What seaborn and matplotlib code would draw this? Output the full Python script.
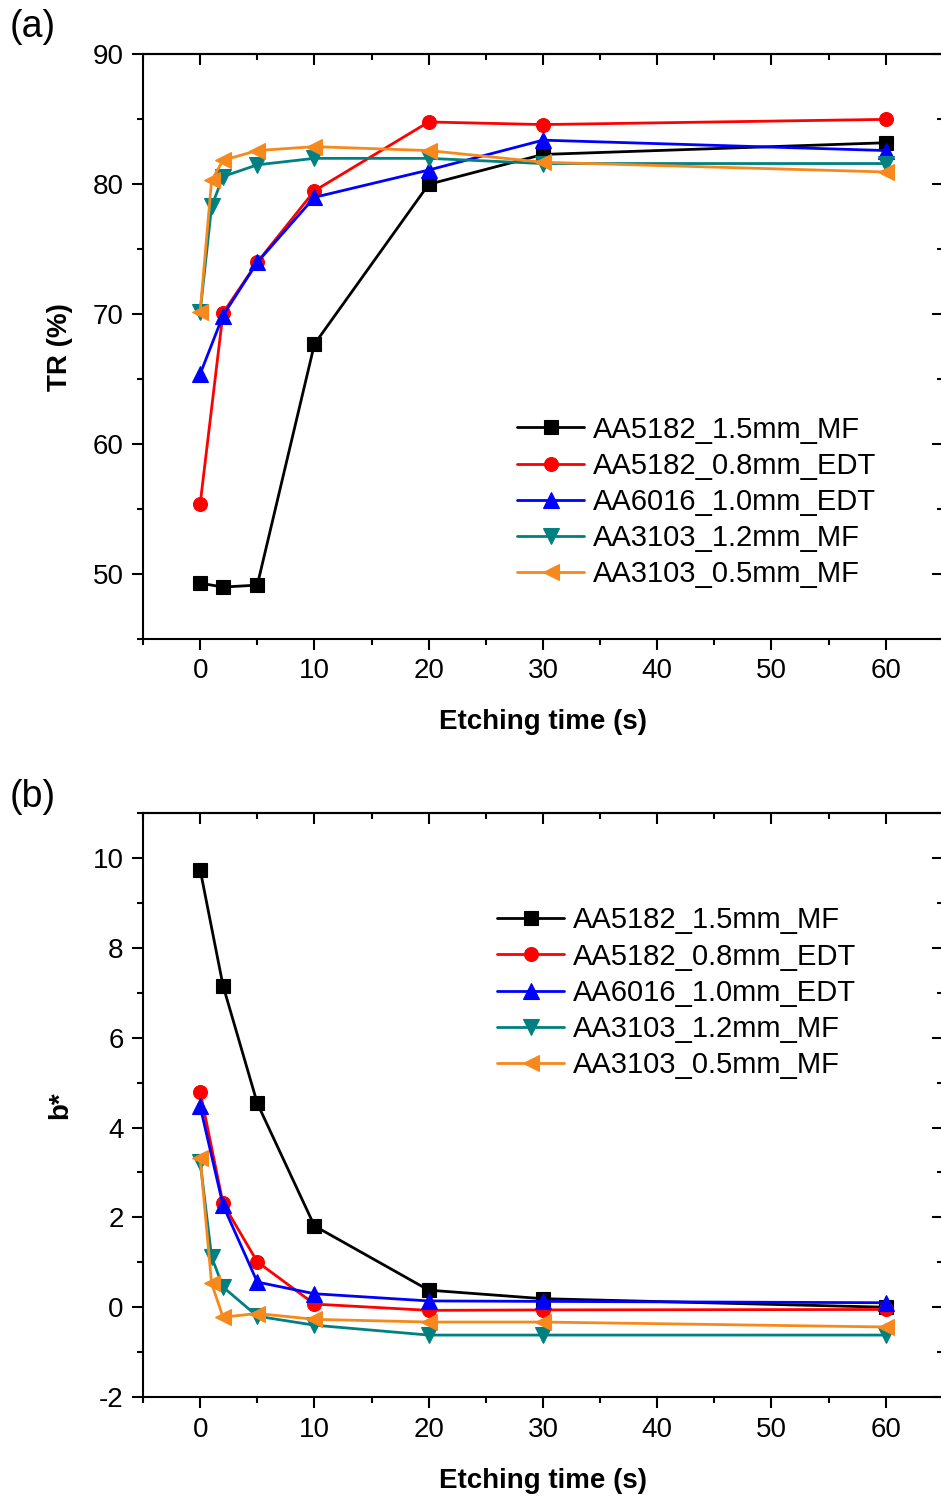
import numpy as np
import pandas as pd
import seaborn as sns
import matplotlib.pyplot as plt
from matplotlib.ticker import MultipleLocator

# Series names, colours and markers
samples = ['AA5182_1.5mm_MF', 'AA5182_0.8mm_EDT', 'AA6016_1.0mm_EDT',
           'AA3103_1.2mm_MF', 'AA3103_0.5mm_MF']
colors = ['#000000', '#FF0000', '#0000FF', '#008080', '#F7891C']
markers = ['s', 'o', '^', 'v', '<']

# Etching times (s)
t_a = [0, 2, 5, 10, 20, 30, 60]
t_b = [0, 1, 2, 5, 10, 20, 30, 60]
times = [t_a, t_a, t_a, t_b, t_b]

# (a) TR (%)
tr_5182_15 = [49.3, 49.0, 49.15, 67.7, 80.0, 82.3, 83.2]
tr_5182_08 = [55.4, 70.1, 74.0, 79.5, 84.8, 84.6, 85.0]
tr_6016_10 = [65.4, 69.9, 74.0, 79.0, 81.1, 83.4, 82.6]
tr_3103_12 = [70.2, 78.3, 80.6, 81.5, 82.0, 82.0, 81.6, 81.6]
tr_3103_05 = [70.2, 80.3, 81.85, 82.6, 82.9, 82.6, 81.7, 80.95]

# (b) b*
b_5182_15 = [9.74, 7.16, 4.54, 1.81, 0.38, 0.19, 0.0]
b_5182_08 = [4.80, 2.31, 1.01, 0.07, -0.07, -0.06, -0.05]
b_6016_10 = [4.47, 2.27, 0.56, 0.30, 0.14, 0.13, 0.10]
b_3103_12 = [3.24, 1.12, 0.45, -0.20, -0.40, -0.62, -0.62, -0.62]
b_3103_05 = [3.32, 0.53, -0.22, -0.14, -0.27, -0.33, -0.33, -0.44]

tr_data = [tr_5182_15, tr_5182_08, tr_6016_10, tr_3103_12, tr_3103_05]
b_data = [b_5182_15, b_5182_08, b_6016_10, b_3103_12, b_3103_05]

sns.set_style('ticks')
plt.rcParams['font.family'] = ['Liberation Sans', 'DejaVu Sans']
plt.rcParams['axes.linewidth'] = 1.5
plt.rcParams['axes.unicode_minus'] = False
plt.rcParams['text.color'] = 'black'
plt.rcParams['axes.labelcolor'] = 'black'
plt.rcParams['axes.edgecolor'] = 'black'
plt.rcParams['xtick.color'] = 'black'
plt.rcParams['ytick.color'] = 'black'

fig = plt.figure(figsize=(9.41, 14.99), dpi=100)
ax_a = fig.add_axes([0.152, 0.5737, 0.850, 0.390])
ax_b = fig.add_axes([0.152, 0.068, 0.850, 0.3896])


def draw(ax, ydata, ylabel, ylim, ymaj, ymin, leg_anchor):
    for name, t, y, c, m in zip(samples, times, ydata, colors, markers):
        df = pd.DataFrame({'t': t, 'y': y})
        ms = 11 if m in ('^', 'v', '<') else 10
        sns.lineplot(data=df, x='t', y='y', ax=ax, color=c, marker=m,
                     markersize=ms, markeredgecolor=c, markeredgewidth=0.8,
                     linewidth=2.0, label=name)
    ax.set_xlim(-5, 65)
    ax.set_ylim(*ylim)
    ax.xaxis.set_major_locator(MultipleLocator(10))
    ax.xaxis.set_minor_locator(MultipleLocator(5))
    ax.yaxis.set_major_locator(MultipleLocator(ymaj))
    ax.yaxis.set_minor_locator(MultipleLocator(ymin))
    ax.set_xticks([0, 10, 20, 30, 40, 50, 60])
    ax.tick_params(which='major', direction='out', length=8, width=1.5,
                   labelsize=20, pad=6)
    ax.tick_params(which='minor', direction='out', length=4.5, width=1.5)
    # mirrored inward ticks on top and right
    top = ax.secondary_xaxis('top')
    top.xaxis.set_major_locator(MultipleLocator(10))
    top.xaxis.set_minor_locator(MultipleLocator(5))
    top.tick_params(which='major', direction='in', length=8, width=1.5,
                    labeltop=False)
    top.tick_params(which='minor', direction='in', length=4.5, width=1.5)
    right = ax.secondary_yaxis('right')
    right.yaxis.set_major_locator(MultipleLocator(ymaj))
    right.yaxis.set_minor_locator(MultipleLocator(ymin))
    right.tick_params(which='major', direction='in', length=8, width=1.5,
                      labelright=False)
    right.tick_params(which='minor', direction='in', length=4.5, width=1.5)
    ax.set_xlabel('Etching time (s)', fontsize=20, fontweight='bold',
                  labelpad=18)
    ax.set_ylabel(ylabel, fontsize=20, fontweight='bold', labelpad=14)
    ax.legend(loc='upper left', bbox_to_anchor=leg_anchor, frameon=False,
              fontsize=21, borderpad=0, borderaxespad=0, handlelength=2.3,
              handletextpad=0.3, labelspacing=0.28)


draw(ax_a, tr_data, 'TR (%)', (45, 90), 10, 5, (0.4675, 0.382))
draw(ax_b, b_data, 'b*', (-2, 11), 2, 1, (0.4425, 0.84))

fig.text(0.01, 0.982, '(a)', fontsize=27, va='center', ha='left')
fig.text(0.01, 0.468, '(b)', fontsize=27, va='center', ha='left')

fig.savefig('out.png', dpi=100)
